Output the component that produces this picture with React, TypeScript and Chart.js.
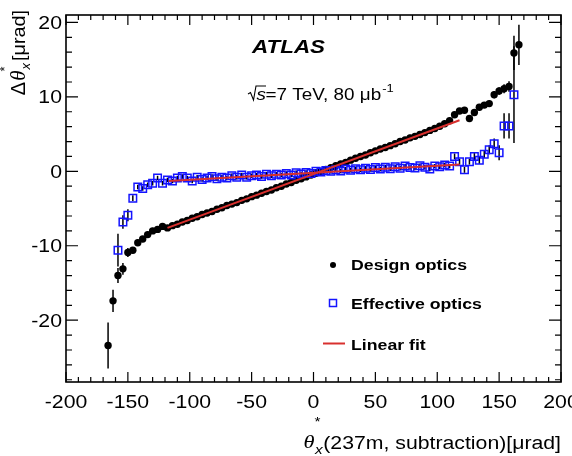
import React, { useEffect, useRef } from "react";
import { Chart, registerables } from "chart.js";

Chart.register(...registerables);

// Bin centres of theta*_x in microrad
const binCenters = [
  -166, -162, -158, -154, -150, -146, -142, -138, -134, -130, -126, -122, -118,
  -114, -110, -106, -102, -98, -94, -90, -86, -82, -78, -74, -70, -66, -62, -58,
  -54, -50, -46, -42, -38, -34, -30, -26, -22, -18, -14, -10, -6, -2, 2, 6, 10,
  14, 18, 22, 26, 30, 34, 38, 42, 46, 50, 54, 58, 62, 66, 70, 74, 78, 82, 86, 90,
  94, 98, 102, 106, 110, 114, 118, 122, 126, 130, 134, 138, 142, 146, 150, 154,
  158, 162, 166,
];

// Delta theta_x for the design optics (microrad)
const designOptics = [
  -23.4, -17.4, -14.0, -13.1, -10.9, -10.6, -9.6, -9.1, -8.5, -8.0, -7.8, -7.4, -7.6,
  -7.3, -7.1, -6.8, -6.6, -6.3, -6.1, -5.8, -5.6, -5.4, -5.1, -4.9, -4.6, -4.4, -4.2, -3.9,
  -3.7, -3.4, -3.2, -2.95, -2.7, -2.5, -2.2, -2.0, -1.7, -1.5, -1.2, -1.0, -0.75, -0.5, -0.25, 0.0, 0.25,
  0.5, 0.75, 1.0, 1.2, 1.5, 1.75, 2.0, 2.2, 2.5, 2.75, 3.0, 3.2, 3.45, 3.7, 4.0, 4.2, 4.5, 4.7, 4.95, 5.2,
  5.5, 5.75, 6.05, 6.4, 6.8, 7.6, 8.1, 8.2, 7.1, 7.9, 8.6, 8.9, 9.1, 10.3, 10.8, 11.1,
  11.4, 15.9, 17.0,
];

const designErrors = [
  3.1, 1.5, 1.0, 0.8, 0.6, 0.4, 0.4, 0.4, 0.4, 0.4, 0.4, 0.4, 0.4,
  0.4, 0.4, 0.4, 0.4, 0.4, 0.4, 0.4, 0.4, 0.4, 0.4, 0.4, 0.4, 0.4, 0.4, 0.4,
  0.4, 0.4, 0.4, 0.4, 0.4, 0.4, 0.4, 0.4, 0.4, 0.4, 0.4, 0.4, 0.4, 0.4, 0.4, 0.4, 0.4,
  0.4, 0.4, 0.4, 0.4, 0.4, 0.4, 0.4, 0.4, 0.4, 0.4, 0.4, 0.4, 0.4, 0.4, 0.4, 0.4, 0.4, 0.4, 0.4, 0.4,
  0.4, 0.4, 0.4, 0.4, 0.4, 0.4, 0.4, 0.4, 0.4, 0.4, 0.4, 0.4, 0.4, 0.5, 0.5, 0.6,
  0.7, 2.3, 2.7,
];

// Delta theta_x for the effective optics (microrad)
const effectiveOptics = [
  null, null, -10.6, -6.8, -5.9, -3.6, -2.1, -2.3, -1.8, -1.6, -0.9, -1.6, -1.15,
  -1.3, -0.9, -0.7, -0.9, -1.3, -0.8, -1.1, -0.9, -0.7, -1.0, -0.8, -0.9, -0.6, -0.8, -0.5,
  -0.8, -0.6, -0.5, -0.7, -0.4, -0.6, -0.4, -0.5, -0.3, -0.5, -0.2, -0.35, -0.15, -0.3, 0.0, -0.1, 0.1,
  0.0, 0.2, 0.05, 0.3, 0.15, 0.35, 0.2, 0.4, 0.25, 0.5, 0.3, 0.55, 0.35, 0.6, 0.4, 0.7, 0.5, 0.45, 0.75, 0.55,
  0.3, 0.7, 0.6, 0.85, 0.7, 2.0, 1.3, 0.2, 1.3, 2.0, 1.5, 2.3, 2.9, 3.7, 2.5, 6.1,
  6.1, 10.3, null,
];

const effectiveErrors = [
  0, 0, 2.2, 0.9, 0.8, 0.4, 0.3, 0.3, 0.3, 0.3, 0.3, 0.3, 0.3,
  0.3, 0.3, 0.3, 0.3, 0.3, 0.3, 0.3, 0.3, 0.3, 0.3, 0.3, 0.3, 0.3, 0.3, 0.3,
  0.3, 0.3, 0.3, 0.3, 0.3, 0.3, 0.3, 0.3, 0.3, 0.3, 0.3, 0.3, 0.3, 0.3, 0.3, 0.3, 0.3,
  0.3, 0.3, 0.3, 0.3, 0.3, 0.3, 0.3, 0.3, 0.3, 0.3, 0.3, 0.3, 0.3, 0.3, 0.3, 0.3, 0.3, 0.3, 0.3, 0.3,
  0.3, 0.3, 0.3, 0.3, 0.3, 0.4, 0.4, 0.4, 0.4, 0.5, 0.5, 0.5, 0.6, 0.7, 1.0, 1.7,
  1.7, 6.5, 0,
];

// Straight-line fits: slope, intercept and fitted range in microrad
const designFit = { slope: 0.0613, intercept: -0.37, from: -118, to: 118 };
const effectiveFit = { slope: 0.0094, intercept: -0.2, from: -117, to: 118 };

const xTicks = [-200, -150, -100, -50, 0, 50, 100, 150, 200];
const yTicks = [-20, -10, 0, 10, 20];
const X_MIN = -200;
const X_MAX = 200;
const Y_MIN = -28.3;
const Y_MAX = 21;

const BLUE = "#1414ff";
const RED = "#d8302e";
const SANS = "'Liberation Sans', Arial, Helvetica, sans-serif";
const SERIF = "'Liberation Serif', 'Times New Roman', serif";
const SX = 1.18; // horizontal widening of all lettering

function toPoints(values: (number | null)[]) {
  const pts: { x: number; y: number }[] = [];
  binCenters.forEach((x, i) => {
    const y = values[i];
    if (y !== null && y !== undefined) pts.push({ x, y });
  });
  return pts;
}

function fitLine(f: { slope: number; intercept: number; from: number; to: number }) {
  return [
    { x: f.from, y: f.intercept + f.slope * f.from },
    { x: f.to, y: f.intercept + f.slope * f.to },
  ];
}

function text(
  ctx: CanvasRenderingContext2D,
  s: string,
  x: number,
  y: number,
  font: string,
  align: CanvasTextAlign = "left",
  sx: number = SX
) {
  ctx.save();
  ctx.font = font;
  ctx.textAlign = align;
  ctx.textBaseline = "alphabetic";
  ctx.fillStyle = "#000";
  ctx.translate(x, y);
  ctx.scale(sx, 1);
  ctx.fillText(s, 0, 0);
  ctx.restore();
}

function width(ctx: CanvasRenderingContext2D, s: string, font: string, sx: number = SX) {
  ctx.save();
  ctx.font = font;
  const w = ctx.measureText(s).width * sx;
  ctx.restore();
  return w;
}

function drawErrorBars(chart: any, values: (number | null)[], errors: number[]) {
  const ctx: CanvasRenderingContext2D = chart.ctx;
  const xs = chart.scales.x;
  const ys = chart.scales.y;
  const area = chart.chartArea;
  ctx.save();
  ctx.beginPath();
  ctx.rect(area.left, area.top, area.right - area.left, area.bottom - area.top);
  ctx.clip();
  ctx.strokeStyle = "#000";
  ctx.lineWidth = 1.5;
  binCenters.forEach((xv, i) => {
    const v = values[i];
    const e = errors[i];
    if (v === null || v === undefined || !e) return;
    const px = xs.getPixelForValue(xv);
    ctx.beginPath();
    ctx.moveTo(px, ys.getPixelForValue(v - e));
    ctx.lineTo(px, ys.getPixelForValue(v + e));
    ctx.stroke();
  });
  ctx.restore();
}

const decorations = {
  id: "atlasDecorations",
  beforeDatasetsDraw(chart: any) {
    drawErrorBars(chart, designOptics, designErrors);
    drawErrorBars(chart, effectiveOptics, effectiveErrors);
  },
  afterDraw(chart: any) {
    const ctx: CanvasRenderingContext2D = chart.ctx;
    const xs = chart.scales.x;
    const ys = chart.scales.y;
    const { left, right, top, bottom } = chart.chartArea;

    ctx.save();
    ctx.strokeStyle = "#000";
    ctx.lineWidth = 1.6;
    ctx.strokeRect(left, top, right - left, bottom - top);

    // x ticks: major every 50, minor every 10, on bottom and top edges
    ctx.lineWidth = 1.2;
    for (let v = X_MIN; v <= X_MAX; v += 10) {
      const px = xs.getPixelForValue(v);
      const len = v % 50 === 0 ? 10 : 5;
      ctx.beginPath();
      ctx.moveTo(px, bottom);
      ctx.lineTo(px, bottom - len);
      ctx.moveTo(px, top);
      ctx.lineTo(px, top + len);
      ctx.stroke();
    }
    // y ticks: major every 10, minor every 2, on left and right edges
    for (let v = -28; v <= 20; v += 2) {
      const py = ys.getPixelForValue(v);
      const len = v % 10 === 0 ? 12 : 6;
      ctx.beginPath();
      ctx.moveTo(left, py);
      ctx.lineTo(left + len, py);
      ctx.moveTo(right, py);
      ctx.lineTo(right - len, py);
      ctx.stroke();
    }
    ctx.restore();

    const tickFont = `18px ${SANS}`;
    xTicks.forEach((v) => {
      text(ctx, String(v), xs.getPixelForValue(v), 408, tickFont, "center");
    });
    yTicks.forEach((v) => {
      text(ctx, String(v), 62, ys.getPixelForValue(v) + 6.5, tickFont, "right");
    });

    // x-axis title, right aligned to the frame
    const mainFont = `18px ${SANS}`;
    const main = "(237m, subtraction)[\u03bcrad]";
    const wMain = width(ctx, main, mainFont);
    const xMain = right - wMain;
    text(ctx, main, xMain, 449, mainFont);
    const subFont = `italic 13px ${SANS}`;
    const thetaFont = `italic 19px ${SERIF}`;
    const wSub = width(ctx, "x", subFont);
    text(ctx, "x", xMain - wSub - 0.5, 454, subFont);
    const wTheta = width(ctx, "\u03b8", thetaFont);
    text(ctx, "\u03b8", xMain - wSub - wTheta - 1, 448, thetaFont);
    text(ctx, "*", xMain - wSub - 1, 426, `13px ${SANS}`);

    // y-axis title, rotated; "[μrad]" ends at the top of the canvas
    ctx.save();
    ctx.translate(25, 10);
    ctx.rotate(-Math.PI / 2);
    ctx.fillStyle = "#000";
    ctx.textBaseline = "alphabetic";
    const yFont = `18px ${SANS}`;
    ctx.font = yFont;
    const wR = ctx.measureText("[\u03bcrad]").width * 1.1;
    ctx.save();
    ctx.translate(-wR, 0);
    ctx.scale(1.1, 1);
    ctx.fillText("[\u03bcrad]", 0, 0);
    ctx.restore();
    ctx.font = `italic 13px ${SANS}`;
    const wX = ctx.measureText("x").width;
    const xPos = -wR - wX - 2;
    ctx.fillText("x", xPos, 5);
    ctx.font = `13px ${SANS}`;
    ctx.fillText("*", xPos - 2, -16);
    ctx.font = `italic 21px ${SERIF}`;
    const wT = ctx.measureText("\u03b8").width;
    const tPos = xPos - wT - 1;
    ctx.fillText("\u03b8", tPos, 0);
    ctx.font = `20px ${SANS}`;
    const wD = ctx.measureText("\u0394").width;
    ctx.fillText("\u0394", tPos - wD - 1, 0);
    ctx.restore();

    // experiment label
    text(ctx, "ATLAS", 252, 53, `italic bold 19px ${SANS}`);

    // centre-of-mass energy and luminosity
    const lumFont = `16px ${SANS}`;
    ctx.save();
    ctx.strokeStyle = "#000";
    ctx.lineWidth = 1.1;
    ctx.beginPath();
    ctx.moveTo(248, 94);
    ctx.lineTo(250.5, 92.5);
    ctx.lineTo(253.5, 100);
    ctx.lineTo(256, 86);
    ctx.lineTo(266, 86);
    ctx.stroke();
    ctx.restore();
    text(ctx, "s", 256.5, 100, `italic 16px ${SANS}`);
    const rest = "=7 TeV, 80 \u03bcb";
    text(ctx, rest, 265.5, 100, lumFont);
    const wRest = width(ctx, rest, lumFont);
    text(ctx, "-1", 265.5 + wRest + 1, 92, `11px ${SANS}`);

    // legend
    const legFont = `bold 15px ${SANS}`;
    ctx.save();
    ctx.fillStyle = "#000";
    ctx.beginPath();
    ctx.arc(333, 265, 3, 0, Math.PI * 2);
    ctx.fill();
    ctx.strokeStyle = BLUE;
    ctx.lineWidth = 1.5;
    ctx.strokeRect(329.5, 299.5, 7, 7);
    ctx.strokeStyle = RED;
    ctx.lineWidth = 2;
    ctx.beginPath();
    ctx.moveTo(323, 343.5);
    ctx.lineTo(345, 343.5);
    ctx.stroke();
    ctx.restore();
    text(ctx, "Design optics", 351, 270, legFont);
    text(ctx, "Effective optics", 351, 309, legFont);
    text(ctx, "Linear fit", 351, 350, legFont);
  },
};

export default function App() {
  const canvasRef = useRef<HTMLCanvasElement | null>(null);

  useEffect(() => {
    const canvas = canvasRef.current;
    if (!canvas) return;
    const chart = new Chart(canvas, {
      type: "scatter",
      data: {
        datasets: [
          {
            label: "Linear fit (design)",
            data: fitLine(designFit),
            showLine: true,
            borderColor: RED,
            borderWidth: 2,
            pointRadius: 0,
            order: 0,
          },
          {
            label: "Linear fit (effective)",
            data: fitLine(effectiveFit),
            showLine: true,
            borderColor: RED,
            borderWidth: 2,
            pointRadius: 0,
            order: 0,
          },
          {
            label: "Effective optics",
            data: toPoints(effectiveOptics),
            pointStyle: "rect",
            pointRadius: 5.3,
            pointBorderWidth: 1.5,
            pointBorderColor: BLUE,
            pointBackgroundColor: "rgba(255,255,255,0)",
            order: 1,
          },
          {
            label: "Design optics",
            data: toPoints(designOptics),
            pointStyle: "circle",
            pointRadius: 3.7,
            pointBorderWidth: 0,
            pointBackgroundColor: "#000",
            order: 2,
          },
        ],
      },
      options: {
        animation: false,
        responsive: false,
        devicePixelRatio: 1,
        layout: { padding: { left: 66, right: 11, top: 15, bottom: 74 } },
        scales: {
          x: { type: "linear", min: X_MIN, max: X_MAX, display: false },
          y: { type: "linear", min: Y_MIN, max: Y_MAX, display: false },
        },
        plugins: {
          legend: { display: false },
          tooltip: { enabled: false },
        },
        events: [],
      },
      plugins: [decorations],
    });
    return () => chart.destroy();
  }, []);

  return (
    <div style={{ position: "absolute", left: 0, top: 0, width: 572, height: 456, background: "#fff" }}>
      <canvas ref={canvasRef} width={572} height={456} />
    </div>
  );
}
